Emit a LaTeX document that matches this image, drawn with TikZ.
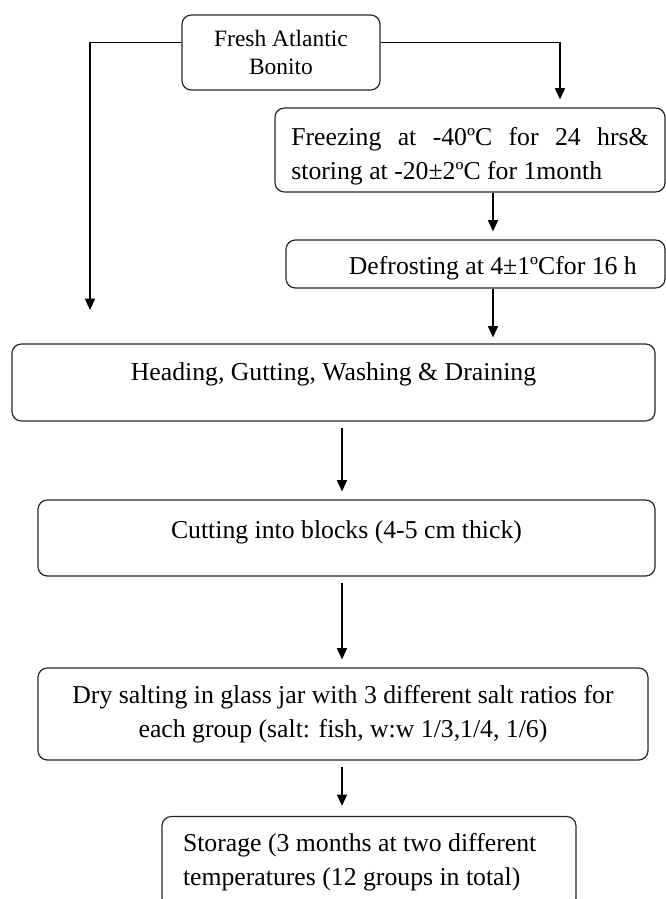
\documentclass[tikz,border=0pt]{standalone}
\usepackage{fontspec}
\setmainfont{Liberation Serif}
\usetikzlibrary{arrows.meta}

\begin{document}
\begin{tikzpicture}[x=0.75pt, y=-0.75pt,
    stepbox/.style={draw=black!85, line width=0.9pt, rounded corners=7pt, inner sep=0pt,
        font=\fontsize{19.3}{25.5}\selectfont},
    flow/.style={-{Triangle[length=8.5pt,width=7.5pt]}, line width=1.25pt}]
                % Page frame
                \useasboundingbox (0,0) rectangle (666,899);

                % Process boxes
                \node[stepbox, minimum width=148.5pt, minimum height=56.25pt, align=center,
                    font=\fontsize{17.6}{21}\selectfont] (fresh) at (281,52.5) {Fresh Atlantic\\Bonito};
                \node[stepbox, minimum width=292.5pt, minimum height=63pt, text width=268pt,
                    align=justify] (freeze) at (470,150)
                    {\hyphenpenalty=10000 \rule{0pt}{22.5pt}Freezing at -40ºC for 24 hrs\&\linebreak storing at -20±2ºC for 1month};
                \node[stepbox, minimum width=284.25pt, text width=242pt, align=flush right,
                    text height=25.5pt, text depth=10.5pt]
                    (defrost) at (475.5,264) {Defrosting at 4±1ºCfor 16 h};
                \node[stepbox, minimum width=482.25pt, text height=27pt, text depth=30.75pt]
                    (head) at (333.5,382.5) {Heading, Gutting, Washing \& Draining};
                \node[stepbox, minimum width=462.75pt, text height=28.5pt, text depth=28.5pt]
                    (cut) at (346.5,538) {Cutting into blocks (4-5 cm thick)};
                \node[stepbox, minimum width=457.5pt, minimum height=69pt, align=center]
                    (dry) at (343,714) {Dry salting in glass jar with 3 different salt ratios for\\
                    each group (salt: fish, w:w 1/3,1/4, 1/6)};
                \node[stepbox, minimum width=310.5pt, minimum height=68.25pt, text width=279pt,
                    align=flush left] (store) at (369,862) {Storage (3 months at two different\\
                    temperatures (12 groups in total)};

                % Arrow ends
                \coordinate (lend) at (90,310);
                \coordinate (rend) at (560,0);
                \coordinate (upx) at (493,0);
                \coordinate (lowx) at (342,0);

                % Connectors
                \draw[flow] ([yshift=7.5pt]fresh.west) -| (lend);
                \draw[flow, shorten >=6pt] ([yshift=7.5pt]fresh.east) -| (freeze.north -| rend);
                \draw[flow, shorten >=6pt] (freeze.south -| upx) -- (defrost.north -| upx);
                \draw[flow, shorten >=4.5pt] (defrost.south -| upx) -- (head.north -| upx);
                \draw[flow, shorten <=5pt, shorten >=6pt] (head.south -| lowx) -- (cut.north -| lowx);
                \draw[flow, shorten <=5pt, shorten >=6pt] (cut.south -| lowx) -- (dry.north -| lowx);
                \draw[flow, shorten <=5pt, shorten >=7.5pt] (dry.south -| lowx) -- (store.north -| lowx);
            \end{tikzpicture}
\end{document}
